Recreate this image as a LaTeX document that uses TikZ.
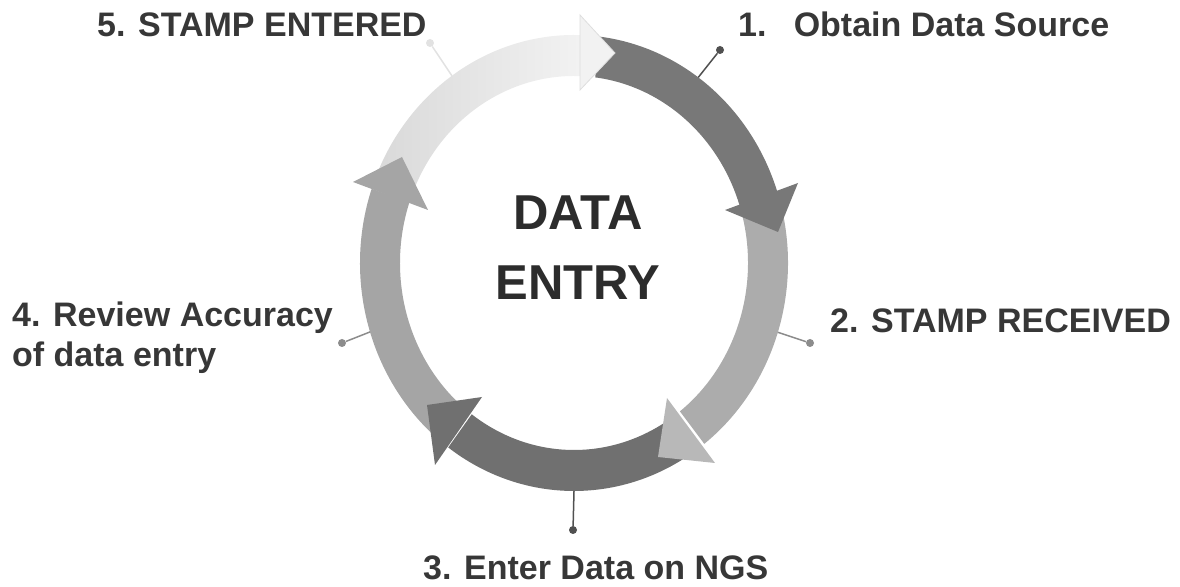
\documentclass[tikz,border=0pt]{standalone}
\usepackage{fontspec}
\setmainfont{Liberation Sans}
\usetikzlibrary{calc}
\definecolor{darkband}{RGB}{120,120,120}
\definecolor{darkerband}{RGB}{112,112,112}
\definecolor{midband}{RGB}{172,172,172}
\definecolor{midbandb}{RGB}{165,165,165}
\definecolor{lighthead}{RGB}{184,184,184}
\definecolor{ink}{RGB}{55,55,55}
\definecolor{pindark}{RGB}{80,80,80}
\definecolor{pingray}{RGB}{140,140,140}
\definecolor{pinfaint}{RGB}{226,226,226}

\begin{document}
\begin{tikzpicture}[x=1pt, y=1pt,
  band1/.style={fill=darkband},
  band2/.style={fill=midband},
  band3/.style={fill=darkerband},
  band4/.style={fill=midbandb},
  band5/.style={left color=black!15, right color=black!5},
  stage/.style={font=\fontsize{34}{40}\selectfont\bfseries, text=ink,
                inner sep=0pt, anchor=base west, align=left},
  title/.style={font=\fontsize{49}{70}\selectfont\bfseries, text=ink!80!black,
                inner sep=0pt, anchor=base, align=center},
  pin/.style={line width=1.5pt},
  dot/.style={circle, inner sep=0pt, minimum size=8pt},
]
\useasboundingbox (0,0) rectangle (1180,586);

\begin{scope}[shift={(574,323)}]
% bands of the ring
\foreach \i/\a/\b in {1/83/18, 2/17/-52.5, 3/-56/-126, 4/-127/-199, 5/160/88} {
  \path[band\i] (\a:214 and 228) arc[start angle=\a, end angle=\b, x radius=214, y radius=228]
    -- (\b:174 and 187) arc[start angle=\b, end angle=\a, x radius=174, y radius=187] -- cycle;
}

% arrow heads
\fill[darkband] (151,53) -- (224,80) -- (204,31) -- cycle;
\fill[lighthead] (93,-135) -- (84,-194) -- (141,-200) -- cycle;
\fill[darkerband] (-92,-134) -- (-139,-202) -- (-147,-142) -- cycle;
\fill[midbandb] (-221,81) -- (-172,106) -- (-146,53) -- cycle;
\filldraw[fill=black!5, draw=black!13, line width=0.8pt] (6,248) -- (41,210) -- (6,173) -- cycle;

% pins
\foreach \i/\ang/\dx/\dy/\col in {1/54.5/146/213/pindark, 2/-17.7/236/-80/pingray,
                                   3/-90/-1/-267/pindark, 4/-162.4/-232/-80/pingray,
                                   5/124.8/-144/220/pinfaint} {
  \coordinate (p\i) at (\ang:214 and 228);
  \node[dot, fill=\col] (dot\i) at (\dx,\dy) {};
  \draw[pin, \col] (p\i) -- (dot\i);
}
\end{scope}

% centre
\node[title] (centre) at (578,286) {DATA\\ENTRY};

% stages
\node[stage] (stage1) at (738,549) {1.\hspace{0.8em}Obtain Data Source};
\node[stage] (stage2) at (830,253) {2. STAMP RECEIVED};
\node[stage] (stage3) at (423,6) {3. Enter Data on NGS};
\node[stage] (stage4) at (12,219) {4. Review Accuracy\\of data entry};
\node[stage] (stage5) at (97,549) {5. STAMP ENTERED};
\end{tikzpicture}
\end{document}
